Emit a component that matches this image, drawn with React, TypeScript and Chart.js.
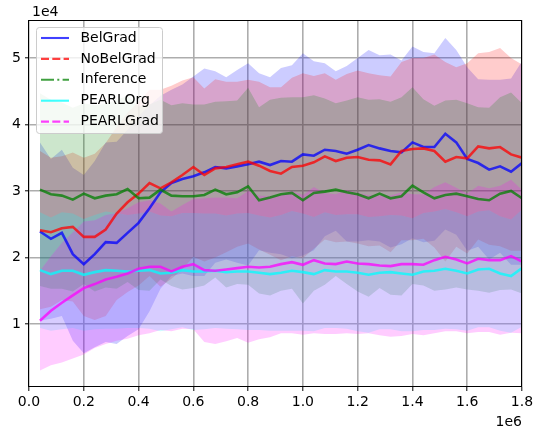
import React, { useEffect, useRef } from "react";
import { Chart, registerables } from "chart.js";

Chart.register(...registerables);

// Training steps (x values)
const steps = [
  40000, 80000, 120000, 160000, 200000, 240000, 280000, 320000, 360000, 400000,
  440000, 480000, 520000, 560000, 600000, 640000, 680000, 720000, 760000, 800000,
  840000, 880000, 920000, 960000, 1000000, 1040000, 1080000, 1120000, 1160000, 1200000,
  1240000, 1280000, 1320000, 1360000, 1400000, 1440000, 1480000, 1520000, 1560000, 1600000,
  1640000, 1680000, 1720000, 1760000, 1800000,
];

// Mean returns
const belGrad = [
  23900, 22800, 23700, 20500, 19000, 20500, 22300, 22200, 23700, 25200,
  27400, 29800, 31200, 31800, 32200, 32800, 33600, 33400, 33700, 34000,
  34400, 33900, 34500, 34400, 35500, 35300, 36200, 36000, 35600, 36200,
  36900, 36400, 36000, 35800, 37300, 36600, 36600, 38600, 37300, 34800,
  34200, 33200, 33700, 32900, 34200,
];
const noBelGrad = [
  24100, 23800, 24400, 24600, 23100, 23100, 24200, 26600, 28300, 29600,
  31200, 30400, 31300, 32400, 33600, 32400, 33400, 33600, 34000, 34400,
  33800, 33000, 32600, 33600, 33800, 34300, 35200, 34500, 35000, 35100,
  34700, 34600, 34000, 36000, 36300, 36400, 36000, 34400, 35100, 34900,
  36700, 36400, 36600, 35500, 35000,
];
const inference = [
  30200, 29500, 29300, 28700, 29600, 28900, 29300, 29500, 30300, 28900,
  29000, 30200, 29300, 29200, 29200, 29400, 30200, 29500, 29800, 30700,
  28600, 29000, 29500, 29700, 28600, 29700, 29900, 30200, 29800, 29500,
  28900, 29600, 28900, 29200, 30800, 29800, 28900, 29400, 29600, 29200,
  28800, 28600, 29600, 30000, 28900,
];
const pearlOrg = [
  18100, 17500, 18000, 18000, 17400, 17800, 18100, 18000, 17900, 18000,
  18100, 17600, 17700, 18100, 17900, 17900, 18000, 17800, 17900, 17900,
  17700, 17500, 17700, 18000, 17800, 17500, 18100, 17900, 17900, 17700,
  17400, 17700, 17800, 17600, 17400, 17900, 18000, 18300, 18000, 17600,
  18200, 18300, 17600, 17200, 18400,
];
const pearlGrad = [
  10500, 12000, 13200, 14300, 15400, 16000, 16700, 17100, 17600, 18300,
  18600, 18600, 17900, 18600, 19000, 18100, 18000, 18200, 18400, 18600,
  18500, 18600, 19000, 19300, 18900, 19600, 19100, 19000, 19400, 19100,
  19000, 18800, 18700, 19000, 19000, 18900, 19600, 20100, 19700, 19100,
  19800, 19600, 19600, 20200, 19400,
];

// Half-width of the shaded band (std)
const belGradSpread = [
  13400, 12000, 12500, 13000, 13400, 14000, 15000, 15200, 15500, 16000,
  15500, 14500, 14000, 14200, 15000, 15600, 14400, 13700, 14500, 15200,
  13300, 13200, 14000, 14500, 15200, 14200, 13000, 12000, 13200, 13800,
  14300, 14000, 14500, 13800, 14400, 14300, 14100, 14400, 13900, 13800,
  12600, 13500, 13000, 14000, 15300,
];
const noBelGradSpread = [
  11900, 11200, 10800, 11200, 11900, 12500, 13000, 13000, 13500, 13800,
  14000, 14800, 14500, 14200, 13500, 13000, 13400, 12800, 12400, 12300,
  12600, 12600, 13000, 13400, 13900, 13000, 12500, 12200, 12600, 13000,
  13000, 12800, 13200, 13400, 13700, 13600, 14500, 15000, 13500, 14300,
  14000, 14500, 14900, 14500, 14000,
];
const inferenceSpread = [
  14500, 14200, 14000, 13800, 13600, 14000, 13800, 14200, 14000, 13800,
  14000, 13500, 13600, 14000, 13800, 13600, 13200, 14000, 13800, 14800,
  14000, 14700, 14500, 14400, 15500, 14700, 14000, 13000, 13800, 14600,
  14800, 14200, 14500, 14900, 14800, 14000, 13900, 14200, 14100, 14000,
  13800, 13900, 14500, 14800, 14300,
];
const pearlOrgSpread = [
  8700, 8500, 8800, 8600, 8400, 8600, 8800, 8700, 8500, 8600,
  8800, 8700, 8500, 8600, 8800, 8700, 8600, 8500, 8700, 8800,
  8600, 8500, 8700, 9000, 8800, 8600, 8700, 8500, 8600, 8800,
  8700, 8500, 8600, 8700, 8500, 8800, 8900, 9000, 8800, 8600,
  8700, 8800, 8600, 8500, 8800,
];
const pearlGradSpread = [
  7500, 8200, 9000, 9500, 10000, 9600, 9700, 9600, 9800, 10000,
  10000, 9500, 9000, 9300, 9800, 10800, 11000, 10800, 10500, 11400,
  10800, 10600, 10400, 10700, 10500, 11000, 10600, 10500, 10800, 10600,
  10400, 10500, 10600, 10800, 10500, 10600, 11000, 11200, 10800, 10500,
  11000, 10800, 11200, 11500, 10800,
];

const seriesLabels = ["BelGrad", "NoBelGrad", "Inference", "PEARLOrg", "PEARLGrad"];
const xTickValues = [0, 200000, 400000, 600000, 800000, 1000000, 1200000, 1400000, 1600000, 1800000];
const yTickValues = [10000, 20000, 30000, 40000, 50000];

const rgb = ["0,0,255", "255,0,0", "0,128,0", "0,255,255", "255,0,255"];
const dashes = [[], [8, 3.3], [13, 3.3, 2, 3.3], [], [8, 3.3]];
const FONT = '"DejaVu Sans", sans-serif';

export default function App() {
  const ref = useRef<HTMLCanvasElement | null>(null);

  useEffect(() => {
    const canvas = ref.current;
    if (!canvas) return;
    const means = [belGrad, noBelGrad, inference, pearlOrg, pearlGrad];
    const spreads = [belGradSpread, noBelGradSpread, inferenceSpread, pearlOrgSpread, pearlGradSpread];
    const toPts = (ys: number[]) => ys.map((y, i) => ({ x: steps[i], y }));

    const datasets: any[] = [];
    // bands: magenta first so that the filler draws blue first and magenta last
    for (let s = 4; s >= 0; s--) {
      const m = means[s];
      const sp = spreads[s];
      datasets.push({
        label: seriesLabels[s] + " upper",
        data: m.map((v, i) => ({ x: steps[i], y: v + sp[i] })),
        borderWidth: 0,
        borderColor: "rgba(0,0,0,0)",
        backgroundColor: `rgba(${rgb[s]},0.2)`,
        fill: "+1",
        pointRadius: 0,
      });
      datasets.push({
        label: seriesLabels[s] + " lower",
        data: m.map((v, i) => ({ x: steps[i], y: v - sp[i] })),
        borderWidth: 0,
        borderColor: "rgba(0,0,0,0)",
        fill: false,
        pointRadius: 0,
      });
    }
    for (let s = 4; s >= 0; s--) {
      datasets.push({
        label: seriesLabels[s],
        data: toPts(means[s]),
        borderColor: `rgba(${rgb[s]},0.75)`,
        borderWidth: 2.6,
        fill: false,
        pointRadius: 0,
      });
    }

    const decor = {
      id: "decor",
      afterDraw(chart: any) {
        const ctx = chart.ctx as CanvasRenderingContext2D;
        const ca = chart.chartArea;
        ctx.save();
        // frame
        ctx.strokeStyle = "#000";
        ctx.lineWidth = 1;
        ctx.strokeRect(ca.left - 0.5, ca.top + 0.5, ca.right - ca.left, ca.bottom - ca.top - 1);
        // offset texts
        ctx.fillStyle = "#000";
        ctx.font = `14px ${FONT}`;
        ctx.textBaseline = "alphabetic";
        ctx.textAlign = "left";
        ctx.fillText("1e4", ca.left + 3, 16);
        ctx.textAlign = "right";
        ctx.fillText("1e6", ca.right, 426);
        // legend
        const bx = 36.5, by = 27.5, bw = 126, bh = 106, r = 3;
        ctx.beginPath();
        ctx.moveTo(bx + r, by);
        ctx.lineTo(bx + bw - r, by);
        ctx.quadraticCurveTo(bx + bw, by, bx + bw, by + r);
        ctx.lineTo(bx + bw, by + bh - r);
        ctx.quadraticCurveTo(bx + bw, by + bh, bx + bw - r, by + bh);
        ctx.lineTo(bx + r, by + bh);
        ctx.quadraticCurveTo(bx, by + bh, bx, by + bh - r);
        ctx.lineTo(bx, by + r);
        ctx.quadraticCurveTo(bx, by, bx + r, by);
        ctx.closePath();
        ctx.fillStyle = "rgba(255,255,255,0.8)";
        ctx.fill();
        ctx.strokeStyle = "#cccccc";
        ctx.lineWidth = 1;
        ctx.stroke();
        for (let i = 0; i < seriesLabels.length; i++) {
          const y = 38 + i * 20.9;
          ctx.beginPath();
          ctx.setLineDash(dashes[i]);
          ctx.strokeStyle = `rgba(${rgb[i]},0.75)`;
          ctx.lineWidth = 2.1;
          ctx.moveTo(41, y);
          ctx.lineTo(69, y);
          ctx.stroke();
          ctx.setLineDash([]);
          ctx.fillStyle = "#000";
          ctx.textAlign = "left";
          ctx.textBaseline = "middle";
          ctx.font = `14px ${FONT}`;
          ctx.fillText(seriesLabels[i], 80.5, y);
        }
        ctx.restore();
      },
    };

    const tickFont = { family: FONT, size: 14 };
    const gridStyle = { color: "#adadad", lineWidth: 1.6, tickColor: "#000", tickWidth: 1, tickLength: 4, drawTicks: true };
    const chart = new Chart(canvas, {
      type: "line",
      data: { datasets },
      options: {
        animation: false,
        responsive: false,
        devicePixelRatio: 1,
        layout: { padding: { left: 0, top: 20, right: 16, bottom: 0 } },
        plugins: {
          legend: { display: false },
          tooltip: { enabled: false },
          filler: { drawTime: "beforeDatasetsDraw", propagate: false },
        },
        elements: { point: { radius: 0 }, line: { tension: 0 } },
        scales: {
          x: {
            type: "linear",
            min: 0,
            max: 1800000,
            afterFit: (s: any) => { s.height = 42; },
            afterBuildTicks: (s: any) => { s.ticks = xTickValues.map((v) => ({ value: v })); },
            ticks: {
              callback: (v: any) => (Number(v) / 1e6).toFixed(1),
              font: tickFont,
              color: "#000",
              padding: 3,
              maxRotation: 0,
              autoSkip: false,
            },
            grid: gridStyle,
            border: { display: false },
          },
          y: {
            type: "linear",
            min: 530,
            max: 55700,
            afterFit: (s: any) => { s.width = 29; },
            afterBuildTicks: (s: any) => { s.ticks = yTickValues.map((v) => ({ value: v })); },
            ticks: {
              callback: (v: any) => String(Number(v) / 10000),
              font: tickFont,
              color: "#000",
              padding: 4,
              autoSkip: false,
            },
            grid: gridStyle,
            border: { display: false },
          },
        },
      },
      plugins: [decor],
    } as any);

    return () => chart.destroy();
  }, []);

  return (
    <div style={{ position: "fixed", left: 0, top: 0, width: 538, height: 429, background: "#fff" }}>
      <canvas ref={ref} width={538} height={429} style={{ display: "block" }} />
    </div>
  );
}
